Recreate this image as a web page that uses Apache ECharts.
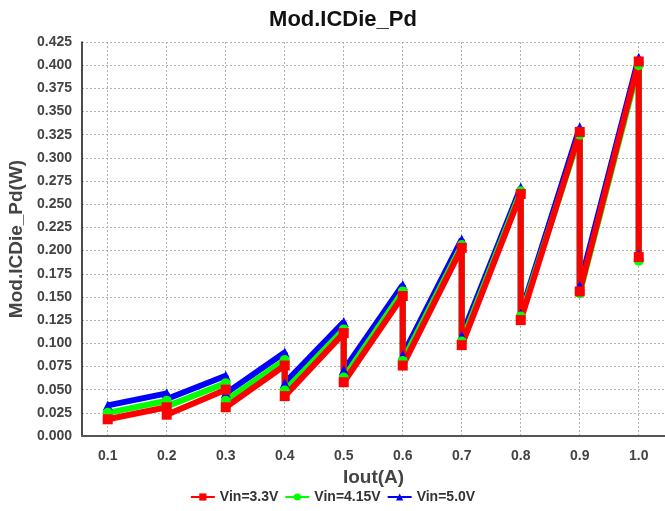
<!DOCTYPE html>
<html>
<head>
<meta charset="utf-8">
<script src="https://cdn.jsdelivr.net/npm/echarts@6/dist/echarts.min.js"></script>
<style>
  html, body { margin: 0; padding: 0; background: #fff; }
  #chart { width: 665px; height: 511px; }
</style>
</head>
<body>
<div id="chart"></div>
<script>
// Iout steps (A)
const iout = [0.1, 0.2, 0.3, 0.4, 0.5, 0.6, 0.7, 0.8, 0.9, 1.0];

// low = value at start of each step, high = value at end of the previous ramp (from 0.2)
const low33 = [0.018, 0.023, 0.031, 0.043, 0.058, 0.076, 0.098, 0.125, 0.156, 0.193];
const high33 = [null, 0.031, 0.050, 0.076, 0.111, 0.151, 0.203, 0.261, 0.328, 0.404];
const low415 = [0.025, 0.032, 0.038, 0.049, 0.063, 0.081, 0.102, 0.129, 0.154, 0.189];
const high415 = [null, 0.038, 0.057, 0.082, 0.115, 0.156, 0.206, 0.264, 0.325, 0.400];
const low50 = [0.033, 0.040, 0.046, 0.057, 0.071, 0.087, 0.108, 0.132, 0.162, 0.196];
const high50 = [null, 0.046, 0.065, 0.090, 0.123, 0.163, 0.212, 0.268, 0.333, 0.408];

function sawtooth(lows, highs) {
    const pts = [];
    iout.forEach((x, i) => {
        if (highs[i] != null) pts.push([x, highs[i]]);
        pts.push([x, lows[i]]);
    });
    return pts;
}

const chart = echarts.init(document.getElementById('chart'));
const font = 'Liberation Sans, Arial, sans-serif';
const gridLine = { show: true, lineStyle: { type: [2, 2], color: '#b0b0b0', width: 1 } };

function mkSeries(name, color, symbol, data) {
    return {
        name, type: 'line', data,
        symbol, symbolSize: 10,
        lineStyle: { color, width: 6 },
        itemStyle: { color },
        animation: false
    };
}

chart.setOption({
    backgroundColor: '#fff',
    title: {
        text: 'Mod.ICDie_Pd',
        left: 338, top: 4, textAlign: 'center',
        textStyle: { fontFamily: font, fontSize: 22, fontWeight: 'bold', color: '#111' }
    },
    legend: {
        bottom: 2, left: 'center',
        itemWidth: 24, itemHeight: 9, itemGap: 6,
        textStyle: { fontFamily: font, fontSize: 14, fontWeight: 'bold', color: '#333' },
        data: ['Vin=3.3V', 'Vin=4.15V', 'Vin=5.0V']
    },
    grid: { left: 82, right: 0, top: 42, bottom: 75, outerBoundsMode: 'none', containLabel: false },
    xAxis: {
        type: 'value',
        min: 0.0564, max: 1.0445,
        name: 'Iout(A)', nameLocation: 'middle', nameGap: 29,
        nameTextStyle: { fontFamily: font, fontSize: 19, fontWeight: 'bold', color: '#444' },
        axisLine: { show: true, onZero: false, lineStyle: { color: '#555', width: 2 } },
        axisTick: { show: false, customValues: iout },
        axisLabel: {
            customValues: iout, margin: 13,
            formatter: v => v.toFixed(1),
            fontFamily: font, fontSize: 14, fontWeight: 'bold', color: '#444'
        },
        splitLine: gridLine
    },
    yAxis: {
        type: 'value',
        min: 0, max: 0.425, interval: 0.025,
        name: 'Mod.ICDie_Pd(W)', nameLocation: 'middle', nameGap: 45,
        nameTextStyle: { fontFamily: font, fontSize: 19, fontWeight: 'bold', color: '#444' },
        axisLine: { show: true, lineStyle: { color: '#111', width: 1.5 } },
        axisTick: { show: false },
        axisLabel: {
            margin: 10,
            formatter: v => v.toFixed(3),
            fontFamily: font, fontSize: 14, fontWeight: 'bold', color: '#444'
        },
        splitLine: gridLine
    },
    series: [
        mkSeries('Vin=5.0V', '#0000ff', 'triangle', sawtooth(low50, high50)),
        mkSeries('Vin=4.15V', '#00ff00', 'circle', sawtooth(low415, high415)),
        mkSeries('Vin=3.3V', '#ff0000', 'rect', sawtooth(low33, high33))
    ]
});
</script>
</body>
</html>
